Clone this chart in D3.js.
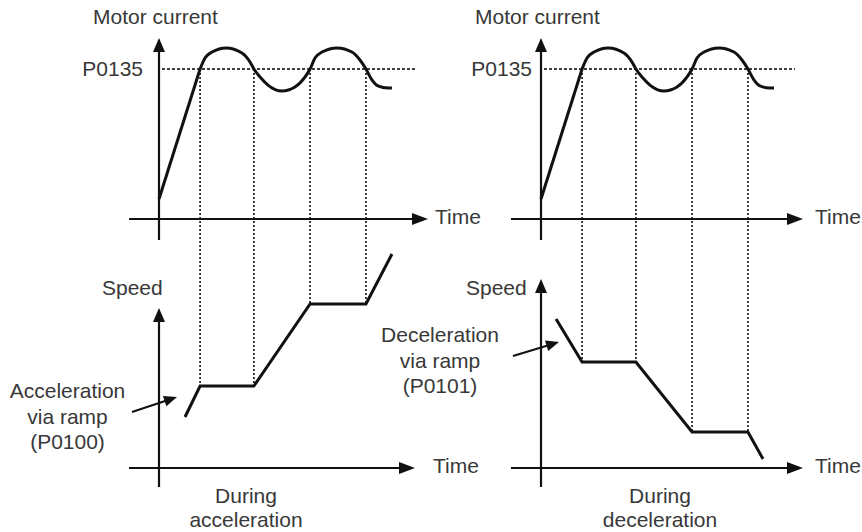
<!DOCTYPE html>
<html>
<head>
<meta charset="utf-8">
<script src="https://cdn.jsdelivr.net/npm/d3@7"></script>
<style>
  html, body { margin: 0; padding: 0; background: #fff; }
  svg text { font-family: "Liberation Sans", Arial, Helvetica, sans-serif; font-size: 21px; fill: #383838; }
</style>
</head>
<body>
<svg id="chart" width="862" height="532"></svg>
<script>
// ---------------- DATA ----------------
const timeLabel = "Time";
const currentLabel = "Motor current";
const speedLabel = "Speed";
const thresholdLabel = "P0135";
const thresholdValue = 100;

// Motor current (normalised units, threshold P0135 = 100)
const currentRamp = [
  {t: 0, v: 13.3}, {t: 15.8, v: 100}
];
const currentWave = [
  {t: 15.8, v: 100}, {t: 17.7, v: 107.3}, {t: 20.4, v: 111.3}, {t: 25.8, v: 114},
  {t: 31.9, v: 110.7}, {t: 35.0, v: 104.7}, {t: 36.5, v: 100}, {t: 39.2, v: 94},
  {t: 41.9, v: 89.3}, {t: 47.3, v: 85.3}, {t: 52.3, v: 88}, {t: 56.2, v: 94.7},
  {t: 58.1, v: 100}, {t: 60.0, v: 107.3}, {t: 62.7, v: 111.3}, {t: 68.5, v: 114},
  {t: 74.2, v: 111.3}, {t: 77.3, v: 106}, {t: 79.6, v: 100}, {t: 81.9, v: 92.7},
  {t: 84.2, v: 88.7}, {t: 88.1, v: 87.3}, {t: 89.6, v: 87.3}
];
// Times where current crosses P0135
const crossTimes = [15.8, 36.5, 58.1, 79.6];

// Speed during acceleration
const speedAccel = [
  {t: 10.0, v: 25.5}, {t: 15.8, v: 41}, {t: 36.5, v: 41},
  {t: 58.1, v: 82}, {t: 79.6, v: 82}, {t: 89.6, v: 107}
];
// Speed during deceleration
const speedDecel = [
  {t: 5.8, v: 74.5}, {t: 15.8, v: 53}, {t: 36.5, v: 53},
  {t: 58.1, v: 18}, {t: 79.6, v: 18}, {t: 85.4, v: 4.5}
];

const accelNote = ["Acceleration", "via ramp", "(P0100)"];
const decelNote = ["Deceleration", "via ramp", "(P0101)"];
const accelCaption = ["During", "acceleration"];
const decelCaption = ["During", "deceleration"];

// ---------------- LAYOUT ----------------
const svg = d3.select("#chart");

const panels = [
  { x0: 159, speed: speedAccel, note: accelNote, caption: accelCaption,
    topTip: 428, botTip: 415, speedTip: 308, curLabelX: 93, thrLabelX: 143,
    dashEnd: 415, timeTopX: 435, timeBotX: 433, speedLabelX: 102,
    noteX: 67.5, noteY: 398, arrow: [[132, 412], [177, 397]], captionX: 246 },
  { x0: 541, speed: speedDecel, note: decelNote, caption: decelCaption,
    topTip: 803, botTip: 803, speedTip: 279, curLabelX: 475, thrLabelX: 532,
    dashEnd: 795, timeTopX: 815, timeBotX: 815, speedLabelX: 466,
    noteX: 440, noteY: 342, arrow: [[513, 356], [559, 342]], captionX: 660 }
];

const yCur = d3.scaleLinear().domain([0, 100]).range([219, 69]);
const ySpd = d3.scaleLinear().domain([0, 100]).range([468, 268]);

function arrowHead(g, x1, y1, x2, y2, len, wid) {
  const a = Math.atan2(y2 - y1, x2 - x1);
  const bx = x2 - len * Math.cos(a), by = y2 - len * Math.sin(a);
  const px = -Math.sin(a) * wid / 2, py = Math.cos(a) * wid / 2;
  g.append("path")
    .attr("d", `M${x2},${y2}L${bx + px},${by + py}L${bx - px},${by - py}Z`)
    .attr("fill", "#111");
}
function arrowLine(g, x1, y1, x2, y2, len, wid, sw) {
  const a = Math.atan2(y2 - y1, x2 - x1);
  g.append("line")
    .attr("x1", x1).attr("y1", y1)
    .attr("x2", x2 - (len - 2) * Math.cos(a)).attr("y2", y2 - (len - 2) * Math.sin(a))
    .attr("stroke", "#111").attr("stroke-width", sw);
  arrowHead(g, x1, y1, x2, y2, len, wid);
}

panels.forEach(p => {
  const g = svg.append("g");
  const x = d3.scaleLinear().domain([0, 100]).range([p.x0, p.x0 + 260]);

  // vertical dotted guides (threshold -> speed)
  crossTimes.forEach(ct => {
    const sp = p.speed.find(d => d.t === ct);
    g.append("line")
      .attr("x1", x(ct)).attr("x2", x(ct))
      .attr("y1", yCur(thresholdValue)).attr("y2", ySpd(sp.v))
      .attr("stroke", "#000").attr("stroke-width", 1.5)
      .attr("stroke-dasharray", "2,2");
  });

  // threshold dashed line
  g.append("line")
    .attr("x1", p.x0 + 3).attr("x2", p.dashEnd)
    .attr("y1", yCur(thresholdValue)).attr("y2", yCur(thresholdValue))
    .attr("stroke", "#000").attr("stroke-width", 1.4)
    .attr("stroke-dasharray", "3,2");

  // axes - top
  arrowLine(g, x(0), 240, x(0), 38, 14, 12, 2.2);
  arrowLine(g, x(0) - 30, yCur(0), p.topTip, yCur(0), 16, 12, 2.2);
  // axes - bottom
  arrowLine(g, x(0), 487, x(0), p.speedTip, 14, 12, 2.2);
  arrowLine(g, x(0) - 30, ySpd(0), p.botTip, ySpd(0), 16, 12, 2.2);

  // current
  g.append("path").datum(currentRamp)
    .attr("d", d3.line().x(d => x(d.t)).y(d => yCur(d.v)))
    .attr("fill", "none").attr("stroke", "#111").attr("stroke-width", 3);
  g.append("path").datum(currentWave)
    .attr("d", d3.line().x(d => x(d.t)).y(d => yCur(d.v)).curve(d3.curveMonotoneX))
    .attr("fill", "none").attr("stroke", "#111").attr("stroke-width", 3)
    .attr("stroke-linejoin", "round");

  // speed
  g.append("path").datum(p.speed)
    .attr("d", d3.line().x(d => x(d.t)).y(d => ySpd(d.v)))
    .attr("fill", "none").attr("stroke", "#111").attr("stroke-width", 3)
    .attr("stroke-linejoin", "miter");

  // texts
  g.append("text").attr("x", p.curLabelX).attr("y", 24).text(currentLabel);
  g.append("text").attr("x", p.thrLabelX).attr("y", yCur(thresholdValue) + 7)
    .attr("text-anchor", "end").text(thresholdLabel);
  g.append("text").attr("x", p.timeTopX).attr("y", yCur(0) + 5).text(timeLabel);
  g.append("text").attr("x", p.timeBotX).attr("y", ySpd(0) + 5).text(timeLabel);
  g.append("text").attr("x", p.speedLabelX).attr("y", 295).text(speedLabel);

  p.note.forEach((s, i) => {
    g.append("text").attr("x", p.noteX).attr("y", p.noteY + i * 25.5)
      .attr("text-anchor", "middle").text(s);
  });
  arrowLine(g, p.arrow[0][0], p.arrow[0][1], p.arrow[1][0], p.arrow[1][1], 13, 11, 2);

  p.caption.forEach((s, i) => {
    g.append("text").attr("x", p.captionX).attr("y", 503 + i * 24)
      .attr("text-anchor", "middle").text(s);
  });
});
</script>
</body>
</html>
